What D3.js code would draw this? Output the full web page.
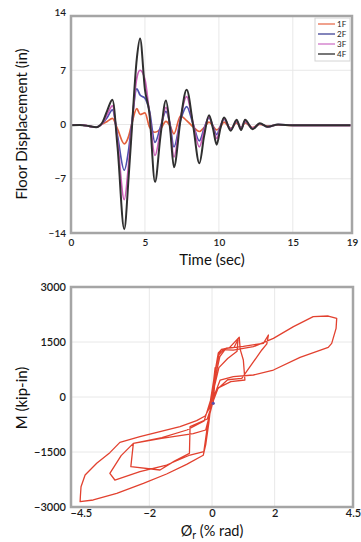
<!DOCTYPE html>
<html>
<head>
<meta charset="utf-8">
<script src="https://cdn.jsdelivr.net/npm/d3@7"></script>
<style>
  html, body { margin: 0; padding: 0; background: #fff; }
  svg { display: block; font-family: Lato, "Open Sans", sans-serif; }
</style>
</head>
<body>
<div id="chart"></div>
<script>
// ---- top chart: floor displacement time histories ----
const time = [0, 0.6, 1.2, 1.7, 2.1, 2.45, 2.8, 3.15, 3.6, 3.9, 4.1, 4.45, 4.67, 5.0, 5.3, 5.68, 6.05, 6.42, 6.7, 6.96, 7.4, 7.82, 8.25, 8.68, 9.0, 9.33, 9.6, 9.85, 10.1, 10.35, 10.8, 11.2, 11.5, 11.77, 12.28, 12.77, 13.3, 14.0, 15.0, 16.5, 18.9];
const disp1F = [-0.1, -0.05, -0.2, -0.35, 0.05, 0.4, 0.8, -0.6, -2.5, -1.5, 0.0, 2.05, 1.3, 1.5, -0.3, -1.0, -0.6, 0.4, -0.2, -1.2, 1.1, 0.5, -0.3, -0.9, -0.4, 0.3, -0.2, -0.7, -0.3, 0.3, -0.5, 0.2, -0.4, 0.2, -0.4, 0.0, -0.2, -0.05, -0.1, -0.1, -0.1];
const disp2F = [-0.1, -0.05, -0.2, -0.35, 0.1, 0.9, 1.9, -1.5, -5.9, -3.2, 0.0, 4.6, 3.8, 3.4, 1.8, -2.3, -0.3, 1.7, 0.0, -2.9, 0.5, 2.3, 0.1, -2.1, -0.5, 0.9, -0.2, -1.3, -0.2, 0.7, -0.6, 0.4, -0.5, 0.4, -0.5, 0.1, -0.3, 0.0, -0.1, -0.1, -0.1];
const disp3F = [-0.1, -0.05, -0.2, -0.35, 0.1, 1.3, 2.4, -2.2, -9.7, -5.0, -0.5, 6.0, 7.0, 5.8, 1.5, -4.0, -0.8, 2.2, -0.3, -4.2, 0.8, 3.6, 0.2, -2.9, -0.8, 1.0, -0.3, -1.8, -0.3, 0.8, -0.7, 0.5, -0.6, 0.5, -0.5, 0.1, -0.3, 0.0, -0.1, -0.1, -0.1];
const disp4F = [-0.1, -0.05, -0.2, -0.35, 0.2, 1.8, 3.2, -3.0, -13.5, -6.7, -1.0, 8.5, 11.1, 4.5, 1.5, -7.4, -1.5, 3.1, -0.5, -5.5, 0.5, 4.5, 0.0, -5.0, -1.5, 1.2, -0.5, -2.6, -0.5, 0.9, -0.8, 0.6, -0.7, 0.6, -0.6, 0.15, -0.3, 0.0, -0.1, -0.1, -0.1];
const floorNames = ['1F', '2F', '3F', '4F'];
const timeTicks = [0, 5, 10, 15, 19];
const dispTicks = [-14, -7, 0, 7, 14];

// ---- bottom chart: moment-rotation hysteresis ----
const rotation = [0, 0.05, -0.05, 0.1, -0.1,
  -0.2, -0.28, -0.81, -1.45, -2.19, -3.04, -3.79, -4.21, -4.2, -4.18, -4.05, -3.68, -3.26, -2.94, -2.3, -1.66, -1.02, -0.49, -0.22, -0.09, -0.03,
  0.05, 0.12, 0.2, 0.3, 0.68, 1.32, 1.96, 2.6, 3.23, 3.71, 3.98, 3.96, 3.82, 3.71, 2.81, 1.96, 1.32, 0.68, 0.26, 0.1, -0.05,
  -0.2, -0.6, -1.61, -2.51, -2.9, -3.26, -3.1, -2.3, -1.45, -0.7, -0.26, -0.18, -0.05, 0.08, 0.18, 0.3, 0.55, 0.87, 0.9, 1.0, 1.05, 0.6, 0.2, 0.02,
  -0.15, -0.7, -0.72, -1.2, -1.66, -2.59, -2.51, -1.6, -0.8, -0.25, -0.05, 0.1, 0.22, 0.4, 1.0, 1.64, 1.8, 1.75, 1.59, 0.95, 0.5, 0.15, 0.0, 0.12, 0.25, 0.45, 0.7, 0.83, 0.8, 0.5, 0.22, 0.08, 0.04];
const moment = [0, 400, -400, 800, -700,
  -1300, -1590, -1836, -2100, -2355, -2627, -2809, -2855, -2700, -2446, -2127, -1809, -1518, -1237, -1082, -946, -809, -646, -518, -309, -173,
  300, 800, 1200, 1290, 1281, 1372, 1600, 1918, 2190, 2209, 2145, 1872, 1463, 1354, 1081, 736, 600, 554, 463, 100, -400,
  -900, -1000, -1127, -1264, -1600, -2082, -2264, -2036, -1855, -1582, -1491, -1000, -300, 600, 1100, 1300, 1340, 1628, 1300, 1009, 464, 420, 250, -150,
  -600, -809, -1536, -1750, -1991, -1900, -1264, -1110, -900, -650, -100, 700, 1150, 1320, 1380, 1464, 1690, 1450, 1282, 510, 470, 200, -100, 600, 1100, 1330, 1350, 1560, 1250, 1050, 800, 300, -173];
const rotTicks = [-4.5, -2, 0, 2, 4.5];
const momentTicks = [-3000, -1500, 0, 1500, 3000];

const W = 361, H = 542;
const svg = d3.select('#chart').append('svg')
  .attr('width', W)
  .attr('height', H);

const floorColors = ['#e4603c', '#4d4fae', '#cc5fb8', '#2f2f2f'];
const legendColors = ['#ec8a70', '#6466aa', '#d88ed2', '#555'];

function drawFrame(x, y, xTicks, yTicks, tickFont, pad) {
  const [x0, x1] = x.range();
  const [y0, y1] = y.range();
  const g = svg.append('g');

  // grid
  g.selectAll('.vg').data(xTicks.slice(1, -1)).join('line')
    .attr('x1', d => x(d)).attr('x2', d => x(d))
    .attr('y1', y1).attr('y2', y0)
    .attr('stroke', '#e8e8e8').attr('stroke-width', 1);
  g.selectAll('.hg').data(yTicks.slice(1, -1)).join('line')
    .attr('x1', x0).attr('x2', x1)
    .attr('y1', d => y(d)).attr('y2', d => y(d))
    .attr('stroke', '#e8e8e8').attr('stroke-width', 1);

  // axes (labels only, the frame is drawn as a rect)
  const ax = svg.append('g')
    .attr('transform', `translate(0,${y0})`)
    .call(d3.axisBottom(x).tickValues(xTicks).tickSize(0).tickPadding(pad).tickFormat(d3.format('')));
  const ay = svg.append('g')
    .attr('transform', `translate(${x0},0)`)
    .call(d3.axisLeft(y).tickValues(yTicks).tickSize(0).tickPadding(5).tickFormat(d3.format('')));
  [ax, ay].forEach(a => {
    a.select('.domain').remove();
    a.selectAll('text')
      .attr('fill', '#1a1a1a')
      .style('font-size', tickFont + 'px')
      .style('font-weight', 600)
      .style('font-family', 'Lato, sans-serif');
  });
  return { ax, ay };
}

function drawBorder(x, y) {
  const [x0, x1] = x.range();
  const [y0, y1] = y.range();
  svg.append('rect')
    .attr('x', x0).attr('y', y1)
    .attr('width', x1 - x0).attr('height', y0 - y1)
    .attr('fill', 'none')
    .attr('stroke', '#a5a5a5')
    .attr('stroke-width', 2.5);
}

// ---------- top chart ----------
const xT = d3.scaleLinear().domain([0, 19]).range([71, 352]);
const yT = d3.scaleLinear().domain([-14, 14]).range([233, 16]);
const topAxes = drawFrame(xT, yT, timeTicks, dispTicks, 10, 6);
topAxes.ay.selectAll('text').attr('dy', d => (d === 14 ? '-0.1em' : '0.32em'));

const floorData = [disp1F, disp2F, disp3F, disp4F];
const line = d3.line()
  .x(d => xT(d[0]))
  .y(d => yT(d[1]))
  .curve(d3.curveMonotoneX);

svg.append('g').selectAll('path')
  .data(floorData)
  .join('path')
  .attr('d', vals => line(time.map((t, i) => [t, vals[i]])))
  .attr('fill', 'none')
  .attr('stroke', (d, i) => floorColors[i])
  .attr('stroke-width', (d, i) => (i === 3 ? 2 : 1.7))
  .attr('stroke-linejoin', 'round');

drawBorder(xT, yT);

// legend
const lg = svg.append('g').attr('transform', 'translate(315,18)');
lg.append('rect')
  .attr('width', 35).attr('height', 43)
  .attr('fill', '#fff')
  .attr('stroke', '#d4d4d4')
  .attr('stroke-width', 1);
floorNames.forEach((name, i) => {
  const yy = 6 + i * 10;
  lg.append('line')
    .attr('x1', 3).attr('x2', 20)
    .attr('y1', yy).attr('y2', yy)
    .attr('stroke', legendColors[i])
    .attr('stroke-width', 1.6);
  lg.append('text')
    .attr('x', 22).attr('y', yy)
    .attr('dy', '0.35em')
    .attr('fill', '#222')
    .style('font-size', '8px')
    .text(name);
});

svg.append('text')
  .attr('transform', 'translate(27,124) rotate(-90)')
  .attr('text-anchor', 'middle')
  .attr('fill', '#111')
  .style('font-size', '15px')
  .text('Floor Displacement (in)');
svg.append('text')
  .attr('x', 212).attr('y', 265)
  .attr('text-anchor', 'middle')
  .attr('fill', '#111')
  .style('font-size', '15px')
  .text('Time (sec)');

// ---------- bottom chart ----------
const xB = d3.scaleLinear().domain([-4.5, 4.5]).range([71, 353]);
const yB = d3.scaleLinear().domain([-3000, 3000]).range([507, 287]);
const botAxes = drawFrame(xB, yB, rotTicks, momentTicks, 11, 2);
botAxes.ax.selectAll('text')
  .attr('text-anchor', d => (d === -4.5 ? 'start' : 'middle'))
  .attr('dx', d => (d === -4.5 ? -1 : 0));

const hyst = d3.line()
  .x(d => xB(d[0]))
  .y(d => yB(d[1]));

svg.append('path')
  .datum(rotation.map((r, i) => [r, moment[i]]))
  .attr('d', hyst)
  .attr('fill', 'none')
  .attr('stroke', '#e2412f')
  .attr('stroke-width', 1.3)
  .attr('stroke-linejoin', 'round');

svg.append('circle')
  .attr('cx', xB(rotation[rotation.length - 1]))
  .attr('cy', yB(moment[moment.length - 1]))
  .attr('r', 1.6)
  .attr('fill', '#5a4fa8');

drawBorder(xB, yB);

svg.append('text')
  .attr('transform', 'translate(27,398) rotate(-90)')
  .attr('text-anchor', 'middle')
  .attr('fill', '#111')
  .style('font-size', '15px')
  .text('M (kip-in)');
const xl = svg.append('text')
  .attr('x', 212).attr('y', 536)
  .attr('text-anchor', 'middle')
  .attr('fill', '#111')
  .style('font-size', '14.5px');
xl.append('tspan').text('Ø');
xl.append('tspan').attr('dy', 3).style('font-size', '10.5px').text('r');
xl.append('tspan').attr('dy', -3).text(' (% rad)');
</script>
</body>
</html>
